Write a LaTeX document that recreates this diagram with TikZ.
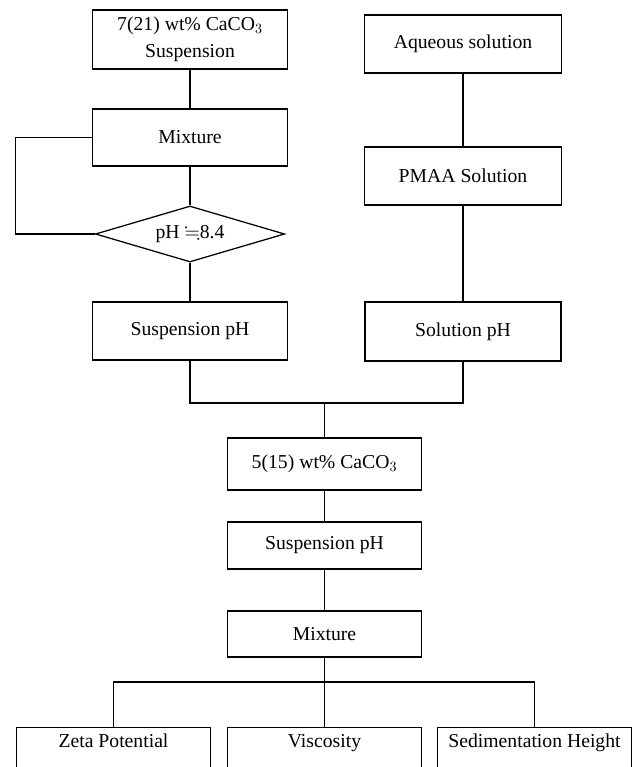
\documentclass[tikz,border=0pt]{standalone}
\usepackage{amssymb}
\usepackage{fontspec}
\setmainfont{Liberation Serif}
\usetikzlibrary{shapes.geometric}

\begin{document}
\begin{tikzpicture}[x=0.025cm,y=-0.025cm,font=\fontsize{14}{19}\selectfont,procbox/.style={draw,line width=0.9pt,inner sep=2pt,align=center,minimum width=4.86cm},cutbox/.style={draw,line width=0.9pt,anchor=north,inner ysep=0pt,minimum width=4.86cm,text height=0.5cm,text depth=0.6cm},link/.style={draw,line width=0.8pt}]
\useasboundingbox (0,0) rectangle (640,767);
% left branch
\node[procbox,minimum height=1.48cm] (susp) at (190,39.5) {7(21) wt\% CaCO$_3$\\Suspension};
\node[procbox,minimum height=1.43cm] (mixa) at (190,137.5) {Mixture};
\node[draw,line width=0.9pt,diamond,aspect=3.4,inner sep=0pt,minimum width=4.73cm,minimum height=1.4cm] (ph) at (190,234) {pH $\fallingdotseq$8.4};
\node[procbox,minimum height=1.45cm] (sphl) at (190,331) {Suspension pH};
% right branch
\node[procbox,minimum width=4.93cm,minimum height=1.45cm] (aq) at (463,44) {Aqueous solution};
\node[procbox,minimum width=4.93cm,minimum height=1.45cm] (pmaa) at (463,176) {PMAA Solution};
\node[procbox,minimum width=4.9cm,minimum height=1.48cm] (sphr) at (463,331.5) {Solution pH};
% common line
\coordinate (join) at (324.5,403);
\node[procbox,minimum height=1.3cm] (mix5) at (324.5,464) {5(15) wt\% CaCO$_3$};
\node[procbox,minimum height=1.18cm] (sph) at (324.5,545.5) {Suspension pH};
\node[procbox,minimum height=1.15cm] (mixb) at (324.5,634) {Mixture};
\coordinate (fork) at (324.5,682);
\foreach \nm/\x/\lab in {zeta/113.5/Zeta Potential,visc/324.5/Viscosity,sed/534.5/Sedimentation Height}{\node[cutbox] (\nm) at (\x,727) {\lab};}
\draw[link] (susp) -- (mixa);
\draw[link] (mixa) -- (ph);
\draw[link] (mixa.west) -- ++(-77,0) |- (ph.west);
\draw[link] (ph) -- (sphl);
\draw[link] (aq) -- (pmaa);
\draw[link] (pmaa) -- (sphr);
\draw[link] (sphl.south) |- (join) -| (sphr.south);
\draw[link] (join) -- (mix5);
\draw[link] (mix5) -- (sph);
\draw[link] (sph) -- (mixb);
\draw[link] (mixb) -- (fork);
\draw[link] (zeta.north) |- (fork) -| (sed.north);
\draw[link] (fork) -- (visc);
\end{tikzpicture}
\end{document}
